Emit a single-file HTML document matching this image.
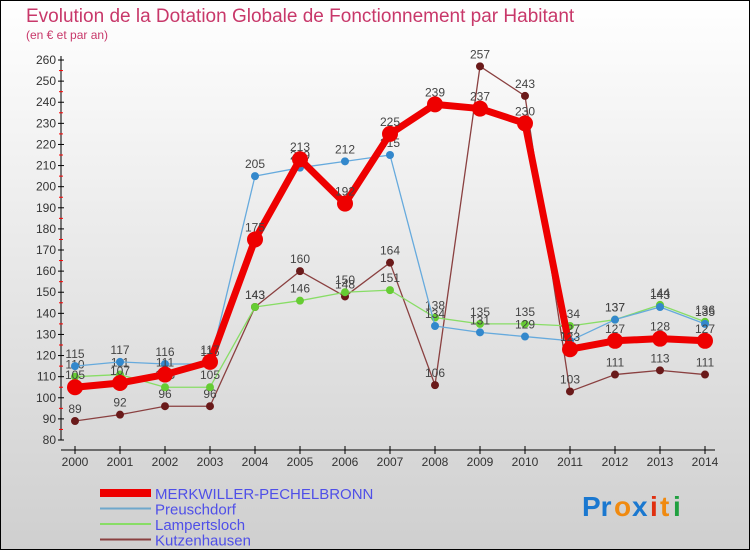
<!DOCTYPE html>
<html><head><meta charset="utf-8"><style>
html,body{margin:0;padding:0}
body{width:750px;height:550px;overflow:hidden;font-family:"Liberation Sans",sans-serif}
</style></head><body>
<svg id="chart" width="750" height="550" xmlns="http://www.w3.org/2000/svg">
<defs><linearGradient id="bg" x1="0" y1="0" x2="0" y2="1"><stop offset="0" stop-color="#ffffff"/><stop offset="1" stop-color="#cfcfcf"/></linearGradient></defs>
<rect x="0.5" y="0.5" width="749" height="549" fill="url(#bg)" stroke="#000"/>
<text x="26" y="22" font-size="19" fill="#c8386a">Evolution de la Dotation Globale de Fonctionnement par Habitant</text>
<text x="26" y="39" font-size="12" fill="#c8386a">(en € et par an)</text>
<g id="axes"></g><g id="series"></g><g id="legend"></g>
<g font-size="28" font-weight="bold" font-family="Liberation Sans, sans-serif">
<text x="582" y="516" fill="#1a78d0">Pr</text><text x="614" y="516" fill="#f08a10">o</text><text x="632" y="516" fill="#1a78d0">x</text><text x="650" y="516" fill="#e03010">i</text><text x="660" y="516" fill="#f08a10">t</text><text x="673" y="516" fill="#20a040">i</text>
</g>
</svg>
<script>
const years=[2000,2001,2002,2003,2004,2005,2006,2007,2008,2009,2010,2011,2012,2013,2014];
const merk=[105,107,111,117,175,213,192,225,239,237,230,123,127,128,127];
const preu=[115,117,116,116,205,209,212,215,134,131,129,127,137,143,135];
const lamp=[110,111,105,105,143,146,150,151,138,135,135,134,137,144,136];
const kutz=[89,92,96,96,143,160,148,164,106,257,243,103,111,113,111];
const yTicks=[80,90,100,110,120,130,140,150,160,170,180,190,200,210,220,230,240,250,260];
const names=["MERKWILLER-PECHELBRONN","Preuschdorf","Lampertsloch","Kutzenhausen"];
const NS="http://www.w3.org/2000/svg";
const xs=i=>75+i*45;
const ys=v=>440-(v-80)*2.111;
function mk(tag,attrs,parent,text){const e=document.createElementNS(NS,tag);for(const k in attrs)e.setAttribute(k,attrs[k]);if(text!==undefined)e.textContent=text;parent.appendChild(e);return e;}
const ax=document.getElementById('axes');
let a=mk('line',{x1:61,y1:ys(260)-4,x2:61,y2:ys(80),stroke:'#000'},ax);


a=mk('line',{x1:61,y1:450,x2:715,y2:450,stroke:'#000'},ax);


yTicks.forEach(v=>{
 mk('line',{x1:58,y1:ys(v),x2:64,y2:ys(v),stroke:'#000'},ax);
 if(v<260) mk('line',{x1:59,y1:ys(v+5),x2:63,y2:ys(v+5),stroke:'#f00'},ax);
 const t=mk('text',{x:56,y:ys(v)+4,'font-size':12,'text-anchor':'end',fill:'#333'},ax,v);
 
 
});
years.forEach((y,i)=>{
 mk('line',{x1:xs(i),y1:446,x2:xs(i),y2:454,stroke:'#000'},ax);
 const t=mk('text',{x:xs(i),y:466,'font-size':12,'text-anchor':'middle',fill:'#333'},ax,y);
 
 
});
const sg=document.getElementById('series');
const defs=[[kutz,'#6a1a1a','#8a4040',1.3,4,'kutzenhausen'],[lamp,'#66cc33','#88dd66',1.3,4,'lampertsloch'],[preu,'#3388cc','#66aadd',1.3,4,'preuschdorf'],[merk,'#ee0000','#ee0000',7,8,'merkwiller']];
defs.forEach(([d,c,lc,w,r,n])=>{
 const g=mk('g',{},sg);
 
 
 const p=mk('polyline',{points:d.map((v,i)=>xs(i)+','+ys(v)).join(' '),fill:'none',stroke:lc,'stroke-width':w,'stroke-linejoin':'round'},g);
 
 
 d.forEach((v,i)=>{
  const c1=mk('circle',{cx:xs(i),cy:ys(v),r:r,fill:c},g);
  
  
  const t=mk('text',{x:xs(i),y:ys(v)-8,'font-size':12,'text-anchor':'middle',fill:'#444'},g,v);
  
  
 });
});
const lg=document.getElementById('legend');
const lc=[['#ee0000',8],['#6fa8cc',2],['#88dd66',2],['#8a4040',2]];
names.forEach((nm,i)=>{
 const y=493+i*15.5;
 const l=mk('line',{x1:100,y1:y,x2:151,y2:y,stroke:lc[i][0],'stroke-width':lc[i][1]},lg);
 
 
 const t=mk('text',{x:155,y:y+6,'font-size':15,fill:'#4f4fe8'},lg,nm);
 
 
});
</script>
</body></html>
